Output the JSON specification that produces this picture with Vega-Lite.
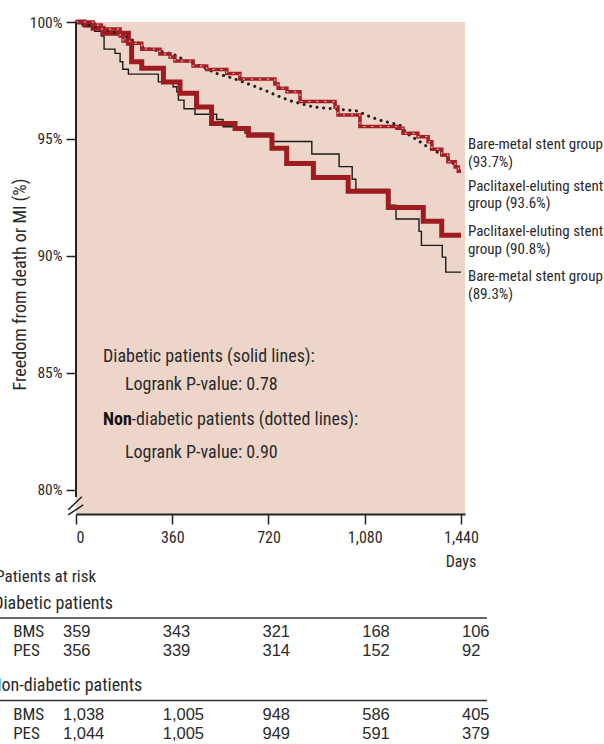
{
  "$schema": "https://vega.github.io/schema/vega-lite/v6.json",
  "width": 389,
  "height": 492,
  "autosize": {"type": "none"},
  "padding": {"left": 76, "top": 22, "right": 139, "bottom": 230},
  "background": "white",
  "config": {
    "view": {"fill": "#EDD5CA", "stroke": null},
    "font": "Liberation Sans Narrow, Roboto Condensed, DejaVu Sans Condensed, Liberation Sans, sans-serif",
    "text": {"fontSize": 15, "color": "#2a2a2a"}
  },
  "datasets": {
    "km": [
      {"grp": "D-BMS", "day": 0, "pct": 100}, {"grp": "D-BMS", "day": 30, "pct": 99.8}, {"grp": "D-BMS", "day": 70, "pct": 99.6}, {"grp": "D-BMS", "day": 95, "pct": 99.4}, {"grp": "D-BMS", "day": 105, "pct": 98.84}, {"grp": "D-BMS", "day": 146, "pct": 98.66}, {"grp": "D-BMS", "day": 165, "pct": 98.3}, {"grp": "D-BMS", "day": 175, "pct": 97.98}, {"grp": "D-BMS", "day": 196, "pct": 97.77}, {"grp": "D-BMS", "day": 308, "pct": 97.44}, {"grp": "D-BMS", "day": 363, "pct": 97.23}, {"grp": "D-BMS", "day": 377, "pct": 97.02}, {"grp": "D-BMS", "day": 383, "pct": 96.66}, {"grp": "D-BMS", "day": 404, "pct": 96.29}, {"grp": "D-BMS", "day": 445, "pct": 96.06}, {"grp": "D-BMS", "day": 526, "pct": 95.83}, {"grp": "D-BMS", "day": 550, "pct": 95.52}, {"grp": "D-BMS", "day": 632, "pct": 95.25}, {"grp": "D-BMS", "day": 733, "pct": 94.89}, {"grp": "D-BMS", "day": 882, "pct": 94.36}, {"grp": "D-BMS", "day": 984, "pct": 93.82}, {"grp": "D-BMS", "day": 1033, "pct": 93.28}, {"grp": "D-BMS", "day": 1047, "pct": 92.84}, {"grp": "D-BMS", "day": 1167, "pct": 92.17}, {"grp": "D-BMS", "day": 1197, "pct": 91.58}, {"grp": "D-BMS", "day": 1283, "pct": 91.05}, {"grp": "D-BMS", "day": 1292, "pct": 90.45}, {"grp": "D-BMS", "day": 1370, "pct": 89.95}, {"grp": "D-BMS", "day": 1383, "pct": 89.31}, {"grp": "D-BMS", "day": 1440, "pct": 89.31},
      {"grp": "D-PES", "day": 0, "pct": 100}, {"grp": "D-PES", "day": 30, "pct": 99.9}, {"grp": "D-PES", "day": 64, "pct": 99.73}, {"grp": "D-PES", "day": 101, "pct": 99.52}, {"grp": "D-PES", "day": 196, "pct": 99.09}, {"grp": "D-PES", "day": 208, "pct": 98.3}, {"grp": "D-PES", "day": 246, "pct": 98.02}, {"grp": "D-PES", "day": 327, "pct": 97.44}, {"grp": "D-PES", "day": 389, "pct": 96.95}, {"grp": "D-PES", "day": 451, "pct": 96.37}, {"grp": "D-PES", "day": 507, "pct": 95.66}, {"grp": "D-PES", "day": 595, "pct": 95.45}, {"grp": "D-PES", "day": 645, "pct": 95.16}, {"grp": "D-PES", "day": 733, "pct": 94.6}, {"grp": "D-PES", "day": 788, "pct": 93.95}, {"grp": "D-PES", "day": 888, "pct": 93.35}, {"grp": "D-PES", "day": 1018, "pct": 92.77}, {"grp": "D-PES", "day": 1168, "pct": 92.07}, {"grp": "D-PES", "day": 1299, "pct": 91.48}, {"grp": "D-PES", "day": 1368, "pct": 90.88}, {"grp": "D-PES", "day": 1440, "pct": 90.88},
      {"grp": "N-BMS", "day": 0, "pct": 100}, {"grp": "N-BMS", "day": 40, "pct": 99.9}, {"grp": "N-BMS", "day": 71, "pct": 99.8}, {"grp": "N-BMS", "day": 134, "pct": 99.58}, {"grp": "N-BMS", "day": 165, "pct": 99.5}, {"grp": "N-BMS", "day": 233, "pct": 99.09}, {"grp": "N-BMS", "day": 246, "pct": 98.92}, {"grp": "N-BMS", "day": 364, "pct": 98.62}, {"grp": "N-BMS", "day": 420, "pct": 98.3}, {"grp": "N-BMS", "day": 457, "pct": 98.16}, {"grp": "N-BMS", "day": 526, "pct": 97.8}, {"grp": "N-BMS", "day": 588, "pct": 97.59}, {"grp": "N-BMS", "day": 657, "pct": 97.3}, {"grp": "N-BMS", "day": 719, "pct": 97.02}, {"grp": "N-BMS", "day": 763, "pct": 96.8}, {"grp": "N-BMS", "day": 813, "pct": 96.59}, {"grp": "N-BMS", "day": 888, "pct": 96.37}, {"grp": "N-BMS", "day": 987, "pct": 96.26}, {"grp": "N-BMS", "day": 1050, "pct": 96.2}, {"grp": "N-BMS", "day": 1100, "pct": 95.95}, {"grp": "N-BMS", "day": 1137, "pct": 95.8}, {"grp": "N-BMS", "day": 1212, "pct": 95.59}, {"grp": "N-BMS", "day": 1237, "pct": 95.24}, {"grp": "N-BMS", "day": 1287, "pct": 94.88}, {"grp": "N-BMS", "day": 1324, "pct": 94.59}, {"grp": "N-BMS", "day": 1387, "pct": 94.23}, {"grp": "N-BMS", "day": 1424, "pct": 93.81}, {"grp": "N-BMS", "day": 1440, "pct": 93.71},
      {"grp": "N-PES", "day": 0, "pct": 100}, {"grp": "N-PES", "day": 64, "pct": 99.87}, {"grp": "N-PES", "day": 94, "pct": 99.7}, {"grp": "N-PES", "day": 165, "pct": 99.4}, {"grp": "N-PES", "day": 176, "pct": 99.19}, {"grp": "N-PES", "day": 202, "pct": 99.09}, {"grp": "N-PES", "day": 246, "pct": 98.84}, {"grp": "N-PES", "day": 314, "pct": 98.63}, {"grp": "N-PES", "day": 352, "pct": 98.5}, {"grp": "N-PES", "day": 370, "pct": 98.33}, {"grp": "N-PES", "day": 438, "pct": 98.12}, {"grp": "N-PES", "day": 489, "pct": 97.97}, {"grp": "N-PES", "day": 564, "pct": 97.8}, {"grp": "N-PES", "day": 613, "pct": 97.56}, {"grp": "N-PES", "day": 744, "pct": 97.35}, {"grp": "N-PES", "day": 756, "pct": 97.17}, {"grp": "N-PES", "day": 789, "pct": 97.02}, {"grp": "N-PES", "day": 838, "pct": 96.6}, {"grp": "N-PES", "day": 969, "pct": 96.37}, {"grp": "N-PES", "day": 980, "pct": 96.03}, {"grp": "N-PES", "day": 1062, "pct": 95.53}, {"grp": "N-PES", "day": 1200, "pct": 95.46}, {"grp": "N-PES", "day": 1223, "pct": 95.24}, {"grp": "N-PES", "day": 1279, "pct": 95.1}, {"grp": "N-PES", "day": 1317, "pct": 94.88}, {"grp": "N-PES", "day": 1331, "pct": 94.56}, {"grp": "N-PES", "day": 1368, "pct": 94.32}, {"grp": "N-PES", "day": 1391, "pct": 94.03}, {"grp": "N-PES", "day": 1418, "pct": 93.8}, {"grp": "N-PES", "day": 1430, "pct": 93.62}, {"grp": "N-PES", "day": 1440, "pct": 93.62}
    ],
    "risk": [
      {"section": "Diabetic", "stent": "BMS", "day": 0, "n": 359}, {"section": "Diabetic", "stent": "BMS", "day": 360, "n": 343}, {"section": "Diabetic", "stent": "BMS", "day": 720, "n": 321}, {"section": "Diabetic", "stent": "BMS", "day": 1080, "n": 168}, {"section": "Diabetic", "stent": "BMS", "day": 1440, "n": 106},
      {"section": "Diabetic", "stent": "PES", "day": 0, "n": 356}, {"section": "Diabetic", "stent": "PES", "day": 360, "n": 339}, {"section": "Diabetic", "stent": "PES", "day": 720, "n": 314}, {"section": "Diabetic", "stent": "PES", "day": 1080, "n": 152}, {"section": "Diabetic", "stent": "PES", "day": 1440, "n": 92},
      {"section": "Non-diabetic", "stent": "BMS", "day": 0, "n": 1038}, {"section": "Non-diabetic", "stent": "BMS", "day": 360, "n": 1005}, {"section": "Non-diabetic", "stent": "BMS", "day": 720, "n": 948}, {"section": "Non-diabetic", "stent": "BMS", "day": 1080, "n": 586}, {"section": "Non-diabetic", "stent": "BMS", "day": 1440, "n": 405},
      {"section": "Non-diabetic", "stent": "PES", "day": 0, "n": 1044}, {"section": "Non-diabetic", "stent": "PES", "day": 360, "n": 1005}, {"section": "Non-diabetic", "stent": "PES", "day": 720, "n": 949}, {"section": "Non-diabetic", "stent": "PES", "day": 1080, "n": 591}, {"section": "Non-diabetic", "stent": "PES", "day": 1440, "n": 379}
    ]
  },
  "resolve": {"scale": {"x": "independent", "y": "independent"}},
  "layer": [
    {
      "data": {"name": "km"},
      "layer": [
        {
          "transform": [{"filter": "datum.grp === 'D-BMS'"}],
          "mark": {"type": "line", "interpolate": "step-after", "color": "#1a1a1a", "strokeWidth": 1.4},
          "encoding": {
            "x": {"field": "day", "type": "quantitative", "scale": {"domain": [0, 1455], "nice": false, "zero": false},
              "axis": {"values": [0, 360, 720, 1080, 1440], "format": ",d", "title": null, "grid": false, "labelFontSize": 16, "labelColor": "#2a2a2a", "labelPadding": 5, "tickSize": 10, "tickColor": "#222", "tickWidth": 1.5, "domainColor": "#222", "domainWidth": 2}},
            "y": {"field": "pct", "type": "quantitative", "scale": {"domain": [78.97, 100], "nice": false, "zero": false},
              "axis": {"values": [80, 85, 90, 95, 100], "labelExpr": "datum.value + '%'", "grid": false, "domain": false, "labelFontSize": 15.5, "labelColor": "#2a2a2a", "labelPadding": 4, "tickSize": 10, "tickColor": "#222", "tickWidth": 1.5,
                "title": "Freedom from death or MI (%)", "titleFontSize": 18, "titleFontWeight": "normal", "titleColor": "#2a2a2a", "titleX": -56, "titleY": 262, "titleAngle": -90, "titleAlign": "center", "titleBaseline": "middle"}}
          }
        },
        {
          "transform": [{"filter": "datum.grp === 'D-PES'"}],
          "mark": {"type": "line", "interpolate": "step-after", "color": "#9E1B20", "strokeWidth": 5},
          "encoding": {"x": {"field": "day", "type": "quantitative"}, "y": {"field": "pct", "type": "quantitative"}}
        },
        {
          "transform": [{"filter": "datum.grp === 'N-BMS'"}],
          "mark": {"type": "line", "color": "#1f1f1f", "strokeWidth": 3, "strokeDash": [0.1, 6.5], "strokeCap": "round"},
          "encoding": {"x": {"field": "day", "type": "quantitative"}, "y": {"field": "pct", "type": "quantitative"}}
        },
        {
          "transform": [{"filter": "datum.grp === 'N-PES'"}],
          "mark": {"type": "line", "interpolate": "step-after", "color": "#A51E24", "strokeWidth": 3.5},
          "encoding": {"x": {"field": "day", "type": "quantitative"}, "y": {"field": "pct", "type": "quantitative"}}
        },
        {
          "transform": [{"filter": "datum.grp === 'N-PES'"}],
          "mark": {"type": "line", "interpolate": "step-after", "color": "#F3C9C4", "strokeWidth": 1, "strokeDash": [2, 6]},
          "encoding": {"x": {"field": "day", "type": "quantitative"}, "y": {"field": "pct", "type": "quantitative"}}
        },
        {
          "data": {"values": [{}]},
          "mark": {"type": "rule", "color": "#222", "strokeWidth": 2},
          "encoding": {"x": {"datum": 0}, "y": {"datum": 100}, "y2": {"datum": 79.7}}
        },
        {
          "data": {"values": [{}]},
          "mark": {"type": "rule", "color": "#222", "strokeWidth": 1.5},
          "encoding": {"x": {"datum": -29}, "x2": {"datum": 27}, "y": {"datum": 78.93}, "y2": {"datum": 79.36}}
        },
        {
          "data": {"values": [{}]},
          "mark": {"type": "rule", "color": "#222", "strokeWidth": 1.5},
          "encoding": {"x": {"datum": -29}, "x2": {"datum": 22}, "y": {"datum": 79.15}, "y2": {"datum": 79.71}}
        },
        {"data": {"values": [{}]}, "mark": {"type": "text", "align": "left", "baseline": "middle", "fontSize": 18, "text": "Diabetic patients (solid lines):"}, "encoding": {"x": {"datum": 101}, "y": {"datum": 85.68}}},
        {"data": {"values": [{}]}, "mark": {"type": "text", "align": "left", "baseline": "middle", "fontSize": 18, "text": "Logrank P-value: 0.78"}, "encoding": {"x": {"datum": 183}, "y": {"datum": 84.49}}},
        {"data": {"values": [{}]}, "mark": {"type": "text", "align": "left", "baseline": "middle", "fontSize": 18, "fontWeight": "bold", "color": "#111", "text": "Non"}, "encoding": {"x": {"datum": 101}, "y": {"datum": 82.99}}},
        {"data": {"values": [{}]}, "mark": {"type": "text", "align": "left", "baseline": "middle", "fontSize": 18, "text": "-diabetic patients (dotted lines):"}, "encoding": {"x": {"datum": 208}, "y": {"datum": 82.99}}},
        {"data": {"values": [{}]}, "mark": {"type": "text", "align": "left", "baseline": "middle", "fontSize": 18, "text": "Logrank P-value:   0.90"}, "encoding": {"x": {"datum": 183}, "y": {"datum": 81.58}}},
        {"data": {"values": [{}]}, "mark": {"type": "text", "align": "left", "baseline": "middle", "text": "Bare-metal stent group"}, "encoding": {"x": {"datum": 1466}, "y": {"datum": 94.79}}},
        {"data": {"values": [{}]}, "mark": {"type": "text", "align": "left", "baseline": "middle", "text": "(93.7%)"}, "encoding": {"x": {"datum": 1466}, "y": {"datum": 94.02}}},
        {"data": {"values": [{}]}, "mark": {"type": "text", "align": "left", "baseline": "middle", "text": "Paclitaxel-eluting stent"}, "encoding": {"x": {"datum": 1466}, "y": {"datum": 92.99}}},
        {"data": {"values": [{}]}, "mark": {"type": "text", "align": "left", "baseline": "middle", "text": "group (93.6%)"}, "encoding": {"x": {"datum": 1466}, "y": {"datum": 92.26}}},
        {"data": {"values": [{}]}, "mark": {"type": "text", "align": "left", "baseline": "middle", "text": "Paclitaxel-eluting stent"}, "encoding": {"x": {"datum": 1466}, "y": {"datum": 91.07}}},
        {"data": {"values": [{}]}, "mark": {"type": "text", "align": "left", "baseline": "middle", "text": "group (90.8%)"}, "encoding": {"x": {"datum": 1466}, "y": {"datum": 90.3}}},
        {"data": {"values": [{}]}, "mark": {"type": "text", "align": "left", "baseline": "middle", "text": "Bare-metal stent group"}, "encoding": {"x": {"datum": 1466}, "y": {"datum": 89.15}}},
        {"data": {"values": [{}]}, "mark": {"type": "text", "align": "left", "baseline": "middle", "text": "(89.3%)"}, "encoding": {"x": {"datum": 1466}, "y": {"datum": 88.38}}},
        {"data": {"values": [{}]}, "mark": {"type": "text", "align": "center", "baseline": "middle", "fontSize": 16, "text": "Days"}, "encoding": {"x": {"datum": 1440}, "y": {"datum": 76.92}}},
        {"data": {"values": [{}]}, "mark": {"type": "text", "align": "left", "baseline": "middle", "fontSize": 17, "text": "Patients at risk"}, "encoding": {"x": {"datum": -302}, "y": {"datum": 76.28}}}
      ]
    },
    {
      "data": {"name": "risk"},
      "transform": [{"filter": "datum.section === 'Diabetic'"}],
      "layer": [
        {
          "mark": {"type": "text", "align": "left", "baseline": "middle", "fontSize": 16.5, "font": "Liberation Sans, Arial, sans-serif"},
          "encoding": {
            "x": {"field": "day", "type": "quantitative", "scale": {"domain": [0, 1440], "range": [-13, 386], "nice": false, "zero": false}, "axis": null},
            "y": {"field": "stent", "type": "nominal", "scale": {"type": "point", "domain": ["header", "a", "b", "rule", "c", "d", "BMS", "e", "f", "g", "PES"], "range": [582, 629], "padding": 0}, "axis": null},
            "text": {"field": "n", "type": "quantitative", "format": ","}
          }
        },
        {
          "transform": [{"filter": "datum.day === 0"}],
          "mark": {"type": "text", "align": "left", "baseline": "middle", "fontSize": 17},
          "encoding": {"x": {"datum": -180}, "y": {"field": "stent", "type": "nominal"}, "text": {"field": "stent"}}
        },
        {
          "data": {"values": [{}]},
          "mark": {"type": "text", "align": "left", "baseline": "middle", "fontSize": 18, "text": "Diabetic patients"},
          "encoding": {"x": {"datum": -252}, "y": {"datum": "header", "type": "nominal"}}
        },
        {
          "data": {"values": [{}]},
          "mark": {"type": "rule", "color": "#333", "strokeWidth": 1.5},
          "encoding": {"x": {"datum": -227}, "x2": {"datum": 1530}, "y": {"datum": "rule", "type": "nominal"}}
        }
      ]
    },
    {
      "data": {"name": "risk"},
      "transform": [{"filter": "datum.section === 'Non-diabetic'"}],
      "layer": [
        {
          "mark": {"type": "text", "align": "left", "baseline": "middle", "fontSize": 16.5, "font": "Liberation Sans, Arial, sans-serif"},
          "encoding": {
            "x": {"field": "day", "type": "quantitative", "scale": {"domain": [0, 1440], "range": [-13, 386], "nice": false, "zero": false}, "axis": null},
            "y": {"field": "stent", "type": "nominal", "scale": {"type": "point", "domain": ["header", "a", "b", "rule", "c", "d", "BMS", "e", "f", "g", "PES"], "range": [664, 712], "padding": 0}, "axis": null},
            "text": {"field": "n", "type": "quantitative", "format": ","}
          }
        },
        {
          "transform": [{"filter": "datum.day === 0"}],
          "mark": {"type": "text", "align": "left", "baseline": "middle", "fontSize": 17},
          "encoding": {"x": {"datum": -180}, "y": {"field": "stent", "type": "nominal"}, "text": {"field": "stent"}}
        },
        {
          "data": {"values": [{}]},
          "mark": {"type": "text", "align": "left", "baseline": "middle", "fontSize": 18, "text": "Non-diabetic patients"},
          "encoding": {"x": {"datum": -262}, "y": {"datum": "header", "type": "nominal"}}
        },
        {
          "data": {"values": [{}]},
          "mark": {"type": "rule", "color": "#333", "strokeWidth": 1.5},
          "encoding": {"x": {"datum": -227}, "x2": {"datum": 1530}, "y": {"datum": "rule", "type": "nominal"}}
        }
      ]
    }
  ]
}
